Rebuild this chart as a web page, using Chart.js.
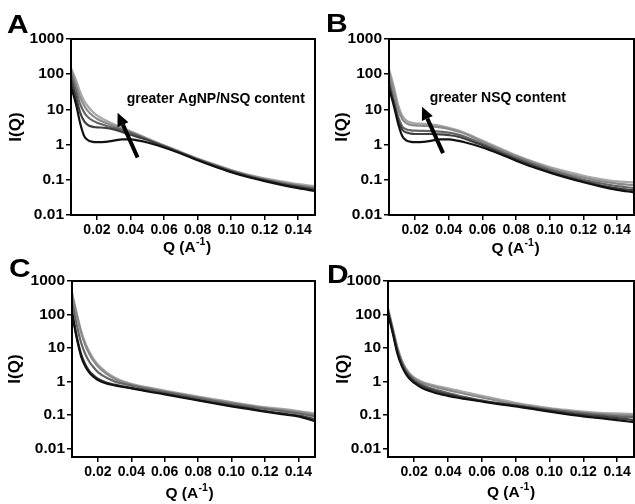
<!DOCTYPE html>
<html><head><meta charset="utf-8">
<script src="https://cdn.jsdelivr.net/npm/chart.js@4.4.1/dist/chart.umd.min.js"></script>
<style>
html,body{margin:0;padding:0;background:#fff;}
#wrap{position:relative;width:635px;height:504px;overflow:hidden;background:#fff;}
canvas{position:absolute;left:0;top:0;}
</style></head><body>
<div id="wrap">
<canvas id="cA" width="635" height="504"></canvas>
<canvas id="cB" width="635" height="504"></canvas>
<canvas id="cC" width="635" height="504"></canvas>
<canvas id="cD" width="635" height="504"></canvas>
</div>
<script>
// ---------- data ----------
const qValues = [0.0045, 0.0075, 0.01, 0.0125, 0.015, 0.0175, 0.02, 0.025, 0.03, 0.035, 0.04, 0.045, 0.05, 0.06, 0.07, 0.08, 0.09, 0.10, 0.11, 0.12, 0.13, 0.14, 0.15];
const xTickValues = [0.02, 0.04, 0.06, 0.08, 0.10, 0.12, 0.14];
const yTickValues = [0.01, 0.1, 1, 10, 100, 1000];
const yTickLabels = ['0.01', '0.1', '1', '10', '100', '1000'];
const panelLetters = ['A', 'B', 'C', 'D'];
const xTitle = 'Q (A';
const xTitleSup = '-1';
const yTitle = 'I(Q)';

const panelA = [
  [45, 14, 4, 1.7, 1.3, 1.2, 1.18, 1.2, 1.3, 1.4, 1.4, 1.3, 1.15, 0.83, 0.56, 0.36, 0.24, 0.165, 0.12, 0.092, 0.072, 0.058, 0.048],
  [70, 22, 8, 4.5, 3.5, 3.2, 3.1, 3.0, 2.7, 2.3, 1.9, 1.6, 1.35, 0.88, 0.58, 0.37, 0.25, 0.17, 0.125, 0.096, 0.076, 0.062, 0.052],
  [100, 34, 14, 8, 5.8, 4.8, 4.2, 3.5, 3.0, 2.6, 2.15, 1.75, 1.4, 0.9, 0.59, 0.38, 0.26, 0.18, 0.13, 0.1, 0.08, 0.066, 0.056],
  [130, 50, 22, 12.5, 8.5, 6.6, 5.4, 4.2, 3.4, 2.8, 2.25, 1.8, 1.45, 0.92, 0.6, 0.39, 0.265, 0.185, 0.135, 0.105, 0.085, 0.07, 0.06],
  [150, 68, 31, 17, 11.5, 8.5, 6.8, 4.9, 3.8, 3.0, 2.4, 1.9, 1.5, 0.95, 0.62, 0.4, 0.275, 0.19, 0.14, 0.11, 0.09, 0.075, 0.066]
];
const panelB = [
  [40, 12, 3.8, 1.7, 1.3, 1.2, 1.18, 1.2, 1.3, 1.4, 1.4, 1.3, 1.15, 0.83, 0.55, 0.35, 0.23, 0.16, 0.115, 0.085, 0.065, 0.052, 0.044],
  [50, 14, 5, 2.6, 2.2, 2.05, 2.0, 2.0, 2.0, 1.95, 1.85, 1.7, 1.45, 0.95, 0.6, 0.38, 0.25, 0.17, 0.12, 0.09, 0.07, 0.057, 0.05],
  [70, 18, 6, 3.2, 2.7, 2.55, 2.5, 2.45, 2.4, 2.35, 2.2, 1.95, 1.65, 1.05, 0.66, 0.42, 0.28, 0.19, 0.135, 0.1, 0.08, 0.066, 0.058],
  [110, 32, 10, 5.2, 4.0, 3.6, 3.5, 3.4, 3.3, 3.1, 2.8, 2.4, 2.0, 1.2, 0.74, 0.47, 0.31, 0.21, 0.15, 0.115, 0.092, 0.078, 0.07],
  [140, 42, 13, 6.5, 4.8, 4.2, 4.0, 3.9, 3.7, 3.4, 3.0, 2.6, 2.1, 1.3, 0.8, 0.5, 0.33, 0.23, 0.17, 0.13, 0.105, 0.09, 0.085]
];
const panelC = [
  [110, 18, 5.5, 2.8, 1.8, 1.35, 1.1, 0.87, 0.76, 0.68, 0.62, 0.56, 0.5, 0.41, 0.33, 0.27, 0.22, 0.18, 0.15, 0.125, 0.105, 0.09, 0.065],
  [120, 20, 6.5, 3.2, 2.0, 1.5, 1.2, 0.93, 0.8, 0.71, 0.64, 0.58, 0.52, 0.43, 0.35, 0.28, 0.23, 0.19, 0.16, 0.13, 0.11, 0.095, 0.075],
  [250, 45, 14, 6.5, 3.8, 2.6, 1.9, 1.3, 1.0, 0.85, 0.75, 0.66, 0.59, 0.48, 0.39, 0.32, 0.26, 0.21, 0.18, 0.15, 0.13, 0.11, 0.09],
  [400, 90, 28, 12, 6.5, 4.0, 2.8, 1.7, 1.2, 0.95, 0.8, 0.7, 0.63, 0.5, 0.41, 0.33, 0.27, 0.23, 0.19, 0.16, 0.14, 0.12, 0.1],
  [450, 100, 32, 14, 7.5, 4.6, 3.2, 1.9, 1.3, 1.0, 0.85, 0.74, 0.66, 0.53, 0.43, 0.35, 0.29, 0.24, 0.2, 0.17, 0.15, 0.13, 0.11]
];
const panelD = [
  [110, 25, 7, 3.0, 1.7, 1.15, 0.9, 0.62, 0.5, 0.42, 0.37, 0.33, 0.3, 0.25, 0.21, 0.18, 0.15, 0.125, 0.105, 0.09, 0.08, 0.07, 0.06],
  [120, 28, 8, 3.4, 1.9, 1.3, 1.0, 0.7, 0.56, 0.47, 0.41, 0.36, 0.32, 0.26, 0.22, 0.19, 0.16, 0.135, 0.115, 0.1, 0.09, 0.08, 0.07],
  [130, 30, 9, 3.8, 2.1, 1.45, 1.1, 0.78, 0.62, 0.52, 0.45, 0.39, 0.34, 0.27, 0.22, 0.19, 0.165, 0.14, 0.125, 0.11, 0.1, 0.09, 0.085],
  [140, 33, 10, 4.2, 2.3, 1.6, 1.25, 0.9, 0.74, 0.63, 0.55, 0.48, 0.42, 0.33, 0.26, 0.21, 0.175, 0.15, 0.13, 0.115, 0.105, 0.1, 0.095],
  [160, 36, 11, 4.5, 2.5, 1.7, 1.3, 0.95, 0.8, 0.7, 0.62, 0.55, 0.48, 0.37, 0.29, 0.23, 0.19, 0.16, 0.14, 0.125, 0.115, 0.11, 0.105]
];
// annotations in data units [Q, I(Q)]
const annotA = { text: 'greater AgNP/NSQ content', at: [0.0377, 20], tail: [0.0442, 0.43], head: [0.0323, 8.0] };
const annotB = { text: 'greater NSQ content', at: [0.0287, 20.7], tail: [0.0366, 0.57], head: [0.0241, 11.9] };

// ---------- styling ----------
const FONT = "'Liberation Sans', Arial, sans-serif";
const seriesColors = ['#111111', '#404040', '#666666', '#8a8a8a', '#a8a8a8'];
const X_MIN = 0.0045, X_MAX = 0.15;
const YW = 70, XH = 45;

function makePanel(id, series, letter, cfg) {
  const a = cfg.area;
  const axisLeft = a.left - YW;
  const datasets = series.map((vals, i) => ({
    data: qValues.map((q, j) => ({ x: q, y: vals[j] })),
    borderColor: seriesColors[i],
    borderWidth: 2.2,
    pointRadius: 0,
    fill: false,
    cubicInterpolationMode: 'monotone'
  }));
  const decor = {
    id: 'decor' + id,
    afterDatasetsDraw(chart) {
      const c = chart.ctx, ca = chart.chartArea;
      c.save();
      c.strokeStyle = '#000'; c.lineWidth = 2;
      c.strokeRect(ca.left, ca.top, ca.right - ca.left, ca.bottom - ca.top);
      c.restore();
    },
    afterDraw(chart) {
      const c = chart.ctx, ca = chart.chartArea;
      const xs = chart.scales.x, ys = chart.scales.y;
      c.save();
      c.fillStyle = '#000';
      // x title with superscript
      c.font = 'bold 15.5px ' + FONT;
      const w1 = c.measureText(xTitle).width;
      c.font = 'bold 10.5px ' + FONT;
      const w2 = c.measureText(xTitleSup).width;
      c.font = 'bold 15.5px ' + FONT;
      const w3 = c.measureText(')').width;
      const tot = w1 + w2 + w3 + 1;
      let x0 = (ca.left + ca.right) / 2 - tot / 2 + cfg.xTitleShift;
      const ty = ca.bottom + cfg.xTitleOff;
      c.textBaseline = 'middle'; c.textAlign = 'left';
      c.fillText(xTitle, x0, ty);
      c.font = 'bold 10.5px ' + FONT;
      c.fillText(xTitleSup, x0 + w1 + 0.5, ty - 6);
      c.font = 'bold 15.5px ' + FONT;
      c.fillText(')', x0 + w1 + w2 + 1, ty);
      // panel letter
      c.save();
      c.translate(cfg.letterPos[0], cfg.letterPos[1]);
      c.scale(1.25, 1.05);
      c.font = 'bold 24px ' + FONT;
      c.textBaseline = 'alphabetic';
      c.fillText(letter, 0, 0);
      c.restore();
      // annotation
      if (cfg.annot) {
        const an = cfg.annot;
        c.font = 'bold 14px ' + FONT;
        c.textBaseline = 'middle'; c.textAlign = 'left';
        c.fillText(an.text, xs.getPixelForValue(an.at[0]), ys.getPixelForValue(an.at[1]));
        const tx = xs.getPixelForValue(an.tail[0]), tyy = ys.getPixelForValue(an.tail[1]);
        const hx = xs.getPixelForValue(an.head[0]), hy = ys.getPixelForValue(an.head[1]);
        const ang = Math.atan2(hy - tyy, hx - tx);
        const hl = 13, hw = 6;
        const bx = hx - hl * Math.cos(ang), by = hy - hl * Math.sin(ang);
        c.strokeStyle = '#000'; c.lineWidth = 4; c.lineCap = 'butt';
        c.beginPath(); c.moveTo(tx, tyy); c.lineTo(bx, by); c.stroke();
        c.beginPath();
        c.moveTo(hx, hy);
        c.lineTo(bx + hw * Math.sin(ang), by - hw * Math.cos(ang));
        c.lineTo(bx - hw * Math.sin(ang), by + hw * Math.cos(ang));
        c.closePath(); c.fill();
      }
      c.restore();
    }
  };
  new Chart(document.getElementById(id), {
    type: 'line',
    data: { datasets },
    plugins: [decor],
    options: {
      responsive: false, animation: false, devicePixelRatio: 1,
      events: [],
      layout: { padding: { left: axisLeft, top: a.top, right: 635 - a.right, bottom: 504 - a.bottom - XH } },
      plugins: { legend: { display: false }, tooltip: { enabled: false } },
      scales: {
        x: {
          type: 'linear', min: X_MIN, max: X_MAX,
          afterBuildTicks: s => { s.ticks = xTickValues.map(v => ({ value: v })); },
          afterFit: s => { s.height = XH; },
          grid: { drawOnChartArea: false, drawTicks: true, tickLength: 5, color: '#000', lineWidth: 1.5 },
          border: { display: false },
          ticks: { autoSkip: false, maxRotation: 0, minRotation: 0, color: '#000', padding: 2,
                   font: { family: FONT, size: 14, weight: 'bold' },
                   callback: v => Number(v).toFixed(2) }
        },
        y: {
          type: 'logarithmic', min: cfg.yMin, max: 1000,
          afterBuildTicks: s => { s.ticks = yTickValues.map(v => ({ value: v })); },
          afterFit: s => { s.width = YW; },
          grid: { drawOnChartArea: false, drawTicks: true, tickLength: 5, color: '#000', lineWidth: 1.5 },
          border: { display: false },
          ticks: { autoSkip: false, color: '#000', padding: 2,
                   font: { family: FONT, size: 15.5, weight: 'bold' },
                   callback: v => { const k = yTickValues.indexOf(v); return k >= 0 ? yTickLabels[k] : ''; } },
          title: { display: true, text: yTitle, color: '#000',
                   font: { family: FONT, size: 17, weight: 'bold' },
                   padding: { top: cfg.yTitleX - axisLeft - 10.2, bottom: 0 } }
        }
      }
    }
  });
}

makePanel('cA', panelA, panelLetters[0], { area: { left: 71, top: 39, right: 315, bottom: 215 }, yMin: 0.01,
  yTitleX: 16, xTitleOff: 33, xTitleShift: -6, letterPos: [7, 33], annot: annotA });
makePanel('cB', panelB, panelLetters[1], { area: { left: 389, top: 39, right: 634, bottom: 215 }, yMin: 0.01,
  yTitleX: 342, xTitleOff: 34, xTitleShift: 4, letterPos: [326, 32], annot: annotB });
makePanel('cC', panelC, panelLetters[2], { area: { left: 72, top: 281, right: 315, bottom: 457 }, yMin: 0.0055,
  yTitleX: 15, xTitleOff: 37, xTitleShift: -4, letterPos: [9, 277], annot: null });
makePanel('cD', panelD, panelLetters[3], { area: { left: 388, top: 281, right: 634, bottom: 457 }, yMin: 0.0055,
  yTitleX: 343, xTitleOff: 36, xTitleShift: 0, letterPos: [327, 283], annot: null });
</script>
</body></html>
